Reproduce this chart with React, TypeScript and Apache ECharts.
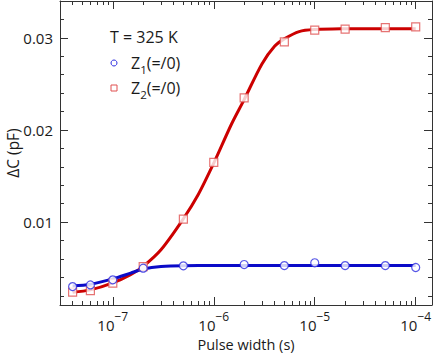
import React, { useEffect, useRef } from "react";
import * as echarts from "echarts";

// Measured points
const z1X = [4e-8, 6e-8, 1e-7, 2e-7, 5e-7, 2e-6, 5e-6, 1e-5, 2e-5, 5e-5, 1e-4];
const z1Y = [0.0030, 0.00318, 0.00373, 0.0050, 0.00525, 0.00539, 0.00528, 0.00558, 0.00528, 0.00528, 0.00507];
const z2X = [4e-8, 6e-8, 1e-7, 2e-7, 5e-7, 1e-6, 2e-6, 5e-6, 1e-5, 2e-5, 5e-5, 1e-4];
const z2Y = [0.00239, 0.00257, 0.00337, 0.00517, 0.01033, 0.01648, 0.02348, 0.02957, 0.03083, 0.03094, 0.03112, 0.0312];

// Fitted curves
const fit1X = [4e-8, 6e-8, 1e-7, 1.5e-7, 2e-7, 3e-7, 5e-7, 1e-6, 1e-5, 1e-4];
const fit1Y = [0.00307, 0.00326, 0.00384, 0.00446, 0.0049, 0.00518, 0.00527, 0.00528, 0.00528, 0.00528];
const fit2X = [4e-8, 6e-8, 1e-7, 1.5e-7, 2e-7, 3e-7, 5e-7, 7e-7, 1e-6, 1.5e-6, 2e-6, 3e-6, 4e-6, 5e-6, 7e-6, 1e-5, 2e-5, 5e-5, 1e-4];
const fit2Y = [0.00238, 0.00264, 0.0034, 0.0043, 0.0052, 0.0070, 0.01036, 0.01296, 0.0164, 0.02065, 0.0233, 0.02717, 0.02909, 0.02989, 0.03068, 0.0309, 0.03098, 0.031, 0.031];

// Axis ticks
const xMajor = [1e-7, 1e-6, 1e-5, 1e-4];
const xMinor: number[] = [];
for (const d of [-8, -7, -6, -5, -4]) {
  for (let m = 2; m <= 9; m++) xMinor.push(m * Math.pow(10, d));
}
const yMajor = [0.01, 0.02, 0.03];
const yMinor = [0.002, 0.004, 0.006, 0.008, 0.012, 0.014, 0.016, 0.018, 0.022, 0.024, 0.026, 0.028, 0.032];

const FONT = "'Open Sans', 'Noto Sans', sans-serif";
const AX = "#333";
const TXT = "#1a1a1a";

export default function App() {
  const ref = useRef<HTMLDivElement>(null);
  useEffect(() => {
    document.body.style.margin = "0";
    const chart = echarts.init(ref.current!, null, { renderer: "svg" });
    const xMin = 3e-8, xMax = 1.45e-4, yMin = 0.001, yMax = 0.034;
    const xBase = (pos: string, ticks: number[], len: number, line: boolean, labels: boolean) => ({
      type: "log", logBase: 10, min: xMin, max: xMax, position: pos,
      axisLine: { show: line, onZero: false, lineStyle: { color: AX, width: 1 } },
      axisTick: { show: true, inside: true, length: len, customValues: ticks, lineStyle: { color: AX, width: 1 } },
      axisLabel: labels ? {
        show: true, customValues: xMajor, margin: 5, color: TXT,
        formatter: (v: number) => `{b|10}{s|−${-Math.round(Math.log10(v))}}`,
        rich: {
          b: { fontSize: 15, fontFamily: FONT, color: TXT, verticalAlign: "bottom", lineHeight: 22 },
          s: { fontSize: 12, fontFamily: FONT, color: TXT, verticalAlign: "top", lineHeight: 22 },
        },
      } : { show: false },
      splitLine: { show: false }, minorTick: { show: false },
    });
    const yBase = (pos: string, ticks: number[], len: number, line: boolean, labels: boolean) => ({
      type: "value", min: yMin, max: yMax, position: pos,
      axisLine: { show: line, onZero: false, lineStyle: { color: AX, width: 1 } },
      axisTick: { show: true, inside: true, length: len, customValues: ticks, lineStyle: { color: AX, width: 1 } },
      axisLabel: labels ? {
        show: true, customValues: yMajor, margin: 7, color: TXT, fontSize: 15, fontFamily: FONT,
        formatter: (v: number) => v.toFixed(2),
      } : { show: false },
      splitLine: { show: false },
    });
    const xAxes: any[] = [
      { ...xBase("bottom", xMajor, 8, true, true), name: "Pulse width (s)", nameLocation: "middle", nameGap: 29,
        nameTextStyle: { fontSize: 14.5, fontFamily: FONT, color: TXT } },
      xBase("bottom", xMinor, 4, false, false),
      xBase("top", xMajor, 8, true, false),
      xBase("top", xMinor, 4, false, false),
    ];
    const yAxes: any[] = [
      yBase("left", yMajor, 8, true, true),
      yBase("left", yMinor, 4, false, false),
      yBase("right", yMajor, 8, true, false),
      yBase("right", yMinor, 4, false, false),
    ];
    const zip = (xs: number[], ys: number[]) => xs.map((x, i) => [x, ys[i]]);
    const richLegend = {
      n: { fontSize: 16, fontFamily: FONT, fill: TXT, lineHeight: 24, verticalAlign: "middle" },
      sub: { fontSize: 11.5, fontFamily: FONT, fill: TXT, lineHeight: 24, verticalAlign: "bottom" },
    };
    chart.setOption({
      animation: false,
      grid: { left: 60, right: 4, top: 1, bottom: 51, containLabel: false, outerBoundsMode: "none" },
      xAxis: xAxes,
      yAxis: yAxes,
      series: [
        { type: "line", data: zip(fit2X, fit2Y), smooth: 0.3, showSymbol: false, lineStyle: { color: "#cc0000", width: 3 }, z: 2 },
        { type: "line", data: zip(fit1X, fit1Y), smooth: 0.3, showSymbol: false, lineStyle: { color: "#0a0ac8", width: 3 }, z: 3 },
        { type: "scatter", data: zip(z2X, z2Y), symbol: "rect", symbolSize: 8,
          itemStyle: { color: "#fff", borderColor: "#e05050", borderWidth: 1.2 }, z: 4 },
        { type: "scatter", data: zip(z1X, z1Y), symbol: "circle", symbolSize: 8,
          itemStyle: { color: "#fff", borderColor: "#2a2ae0", borderWidth: 1.2 }, z: 5 },
      ],
      graphic: [
        { type: "text", x: 13, y: 153, rotation: Math.PI / 2,
          style: { text: "ΔC (pF)", fontSize: 15.5, fontFamily: FONT, fill: TXT, align: "center", verticalAlign: "middle", textAlign: "center", textVerticalAlign: "middle" } },
        { type: "text", x: 110, y: 37, style: { text: "T = 325 K", fontSize: 16, fontFamily: FONT, fill: TXT, verticalAlign: "middle", textVerticalAlign: "middle" } },
        { type: "circle", shape: { cx: 114, cy: 63, r: 3 }, style: { fill: "#fff", stroke: "#2a2ae0", lineWidth: 1 } },
        { type: "text", x: 131, y: 63, style: { text: "{n|Z}{sub|1}{n|(=/0)}", rich: richLegend, verticalAlign: "middle", textVerticalAlign: "middle" } },
        { type: "rect", shape: { x: 111, y: 85, width: 6, height: 6 }, style: { fill: "#fff", stroke: "#e05050", lineWidth: 1 } },
        { type: "text", x: 131, y: 88, style: { text: "{n|Z}{sub|2}{n|(=/0)}", rich: richLegend, verticalAlign: "middle", textVerticalAlign: "middle" } },
      ],
    });
    return () => chart.dispose();
  }, []);
  return <div ref={ref} style={{ width: 436, height: 356 }} />;
}
